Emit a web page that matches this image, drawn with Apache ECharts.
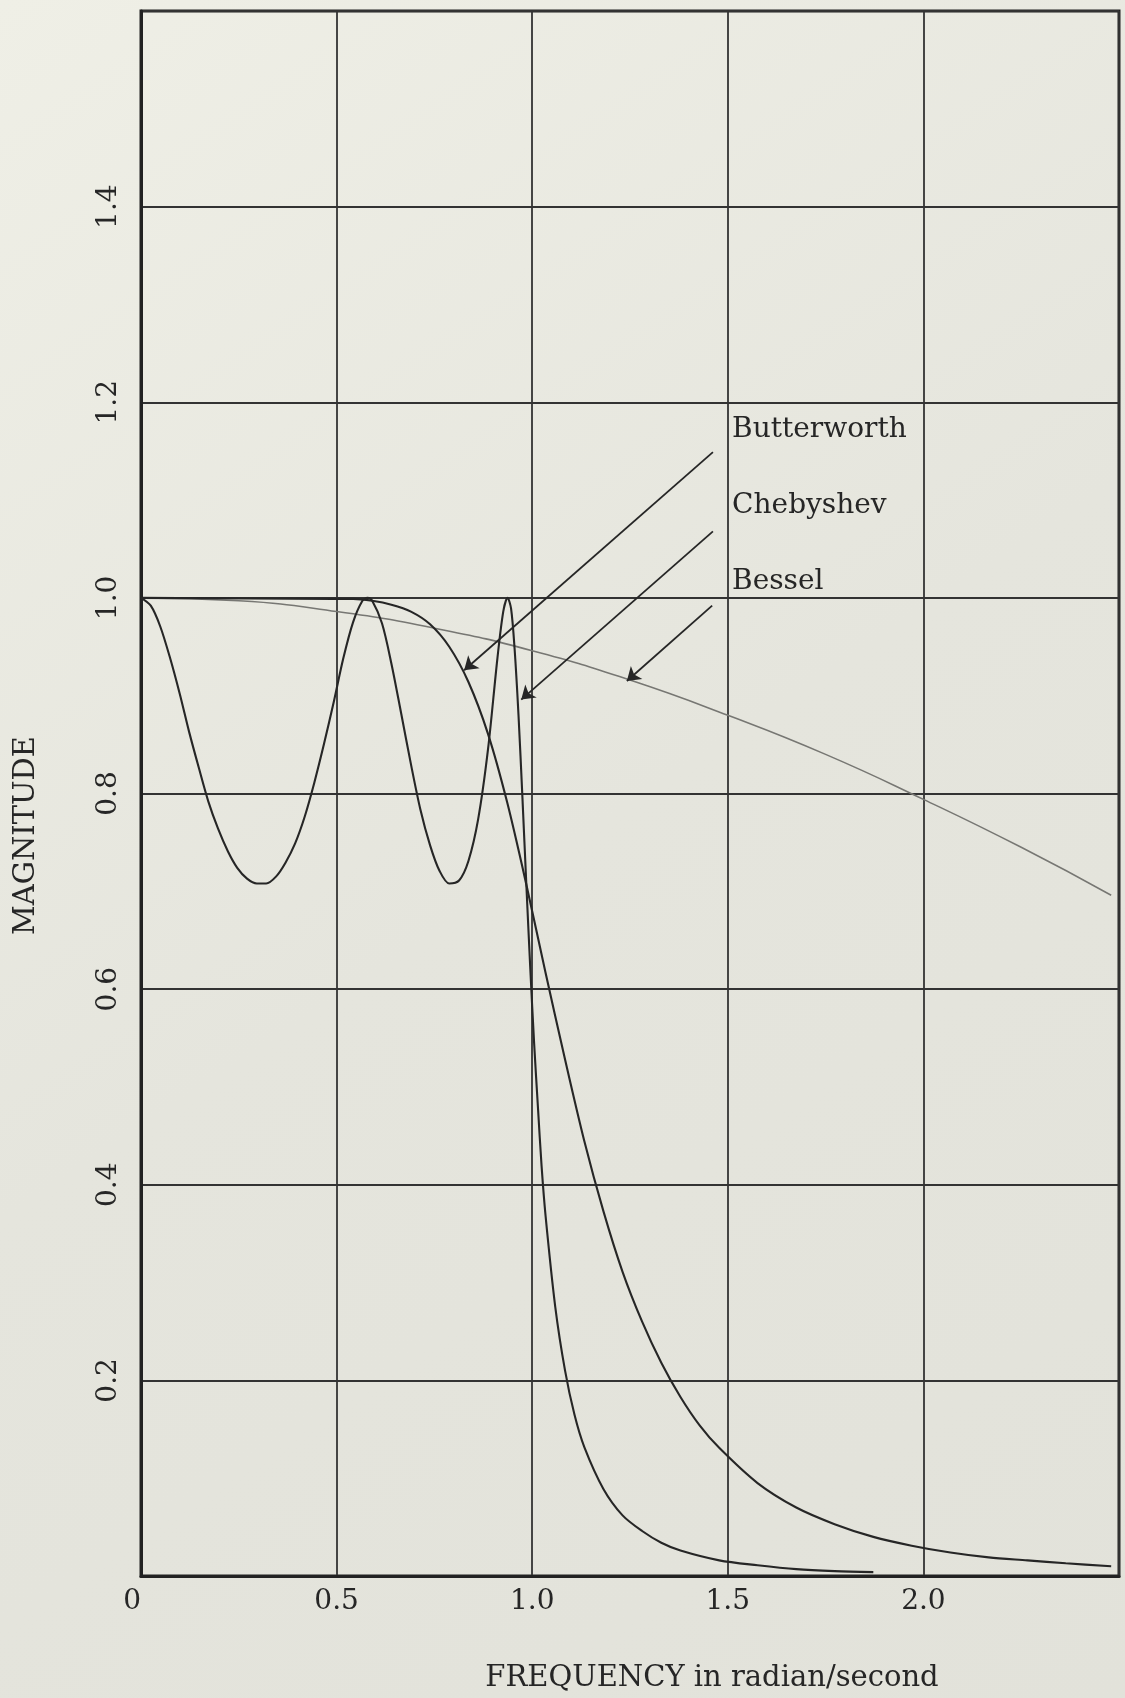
<!DOCTYPE html>
<html><head><meta charset="utf-8">
<script src="https://cdn.jsdelivr.net/npm/echarts@6/dist/echarts.min.js"></script>
<style>html,body{margin:0;padding:0;background:#e5e5dc;} #c{width:1125px;height:1698px;}</style>
</head><body><div id="c"></div>
<script>
// ---- data ----
const chebFreq = [0, 0.025, 0.049, 0.074, 0.099, 0.123, 0.148, 0.172, 0.197, 0.222, 0.246, 0.271, 0.296, 0.320, 0.345, 0.369, 0.394, 0.419, 0.443, 0.468, 0.493, 0.517, 0.542, 0.566, 0.579, 0.591, 0.616, 0.640, 0.665, 0.690, 0.714, 0.739, 0.763, 0.788, 0.813, 0.837, 0.862, 0.887, 0.911, 0.926, 0.937, 0.946, 0.955, 0.965, 0.975, 0.985, 0.995, 1.005, 1.015, 1.024, 1.034, 1.059, 1.084, 1.108, 1.133, 1.182, 1.231, 1.281, 1.330, 1.379, 1.478, 1.576, 1.675, 1.773, 1.872];
const chebMag = [1.0, 0.992, 0.971, 0.939, 0.902, 0.863, 0.826, 0.792, 0.764, 0.741, 0.724, 0.713, 0.708, 0.708, 0.715, 0.729, 0.749, 0.777, 0.811, 0.851, 0.894, 0.938, 0.975, 0.997, 1.0, 0.997, 0.974, 0.933, 0.882, 0.830, 0.784, 0.747, 0.721, 0.708, 0.711, 0.731, 0.774, 0.845, 0.938, 0.986, 1.0, 0.989, 0.948, 0.880, 0.796, 0.707, 0.622, 0.544, 0.477, 0.419, 0.369, 0.275, 0.210, 0.165, 0.132, 0.089, 0.062, 0.046, 0.034, 0.026, 0.016, 0.011, 0.007, 0.005, 0.004];

const bwFreq = [0, 0.493, 0.542, 0.591, 0.640, 0.690, 0.739, 0.788, 0.837, 0.887, 0.936, 0.985, 1.034, 1.084, 1.133, 1.182, 1.231, 1.281, 1.330, 1.379, 1.428, 1.478, 1.576, 1.675, 1.773, 1.872, 1.970, 2.069, 2.167, 2.266, 2.364, 2.48];
const bwMag = [1.0, 0.999, 0.999, 0.997, 0.993, 0.986, 0.973, 0.950, 0.914, 0.861, 0.791, 0.707, 0.617, 0.528, 0.445, 0.373, 0.311, 0.260, 0.218, 0.183, 0.154, 0.131, 0.095, 0.070, 0.053, 0.040, 0.031, 0.024, 0.019, 0.016, 0.013, 0.010];

const besFreq = [0, 0.25, 0.5, 0.75, 1.0, 1.25, 1.5, 1.75, 2.0, 2.25, 2.48];
const besMag = [1.0, 0.997, 0.986, 0.969, 0.946, 0.916, 0.880, 0.840, 0.794, 0.745, 0.696];

const xTickLabels = ['0', '0.5', '1.0', '1.5', '2.0'];
const yTickLabels = ['0.2', '0.4', '0.6', '0.8', '1.0', '1.2', '1.4'];

const annoNames = ['Butterworth', 'Chebyshev', 'Bessel'];
const annoTextX = 1.511;
const annoTextY = [1.172, 1.094, 1.017];
const arrowFrom = [[1.462, 1.149], [1.462, 1.068], [1.460, 0.992]];
const arrowTo = [[0.826, 0.926], [0.972, 0.896], [1.242, 0.915]];

// ---- chart ----
const ink = '#262626';
const serif = '"DejaVu Serif", "Liberation Serif", serif';
const pairs = (xs, ys) => xs.map((x, i) => [x, ys[i]]);
const arrow = i => ({
  silent: true, animation: false,
  symbol: ['none', 'arrow'], symbolSize: 13,
  lineStyle: {color: ink, width: 1.8, type: 'solid'},
  itemStyle: {color: ink},
  label: {show: false},
  emphasis: {disabled: true},
  data: [[{coord: arrowFrom[i]}, {coord: arrowTo[i]}]]
});

const chart = echarts.init(document.getElementById('c'), null, {renderer: 'canvas'});
const option = {
  animation: false,
  backgroundColor: {
    type: 'linear', x: 0, y: 0, x2: 1, y2: 1,
    colorStops: [{offset: 0, color: '#efefe6'}, {offset: 0.5, color: '#e5e5dd'}, {offset: 1, color: '#e2e2da'}]
  },
  grid: {left: 141, right: 6, top: 11, bottom: 119, show: true, borderColor: '#222', borderWidth: 3, backgroundColor: 'transparent'},
  xAxis: {
    type: 'value', min: 0, max: 2.5, interval: 0.5,
    name: 'FREQUENCY in radian/second', nameLocation: 'middle', nameGap: 88,
    nameTextStyle: {fontFamily: serif, fontSize: 29, color: ink, padding: [0, 0, 0, 164]},
    axisLine: {show: true, lineStyle: {color: '#222', width: 3}},
    axisTick: {show: false},
    splitLine: {show: true, lineStyle: {color: '#333', width: 1.8}},
    axisLabel: {
      margin: 12, fontFamily: serif, fontSize: 28, color: ink,
      showMaxLabel: false, alignMinLabel: 'right',
      formatter: v => xTickLabels[Math.round(v / 0.5)] || ''
    }
  },
  yAxis: {
    type: 'value', min: 0, max: 1.6, interval: 0.2,
    name: 'MAGNITUDE', nameLocation: 'middle', nameGap: 100,
    nameTextStyle: {fontFamily: serif, fontSize: 29, color: ink, padding: [0, 84, 0, 0]},
    axisLine: {show: true, lineStyle: {color: '#222', width: 3}},
    axisTick: {show: false},
    splitLine: {show: true, lineStyle: {color: '#333', width: 1.8}},
    axisLabel: {
      rotate: 90, margin: 18, fontFamily: serif, fontSize: 28, color: ink,
      showMinLabel: false, showMaxLabel: false,
      formatter: v => yTickLabels[Math.round(v / 0.2) - 1] || ''
    }
  },
  series: [
    {name: 'Bessel', type: 'line', data: pairs(besFreq, besMag), smooth: true, showSymbol: false,
     lineStyle: {color: '#777773', width: 1.6}, z: 2, markLine: arrow(2)},
    {name: 'Butterworth', type: 'line', data: pairs(bwFreq, bwMag), smooth: 0.3, showSymbol: false,
     lineStyle: {color: ink, width: 2.1}, z: 3, markLine: arrow(0)},
    {name: 'Chebyshev', type: 'line', data: pairs(chebFreq, chebMag), smooth: 0.3, showSymbol: false,
     lineStyle: {color: ink, width: 2.1}, z: 3, markLine: arrow(1)}
  ]
};
chart.setOption(option);
const gfx = annoNames.map((t, i) => {
  const p = chart.convertToPixel({gridIndex: 0}, [annoTextX, annoTextY[i]]);
  return {type: 'text', x: p[0], y: p[1], silent: true,
    style: {text: t, fontFamily: 'DejaVu Serif', fontSize: 28, fill: ink, align: 'left', verticalAlign: 'middle'}};
});
chart.setOption({graphic: gfx});
</script>
</body></html>
